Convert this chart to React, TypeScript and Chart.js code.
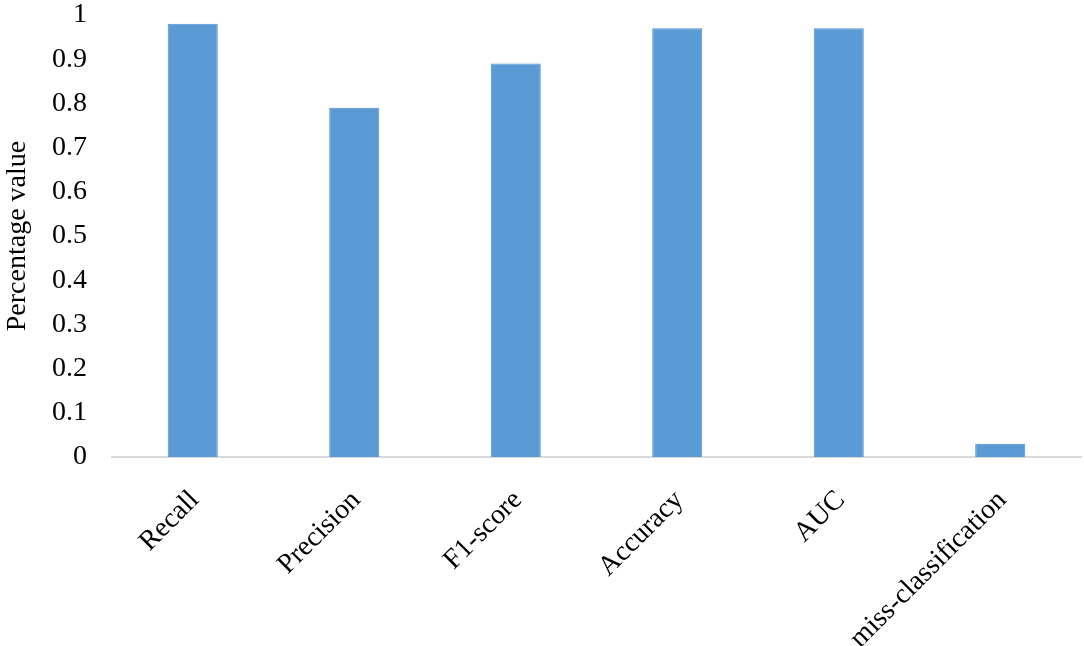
import React, { useEffect, useRef } from "react";
import { Chart, registerables } from "chart.js";

Chart.register(...registerables);

const categories = ["Recall", "Precision", "F1-score", "Accuracy", "AUC", "miss-classification"];
const values = [0.98, 0.79, 0.89, 0.97, 0.97, 0.03];
const yTicks = [0, 0.1, 0.2, 0.3, 0.4, 0.5, 0.6, 0.7, 0.8, 0.9, 1];
const yTitle = "Percentage value";

const FONT = '"Liberation Serif", "Times New Roman", serif';

export default function App() {
  const ref = useRef<HTMLCanvasElement | null>(null);
  useEffect(() => {
    if (!ref.current) return;
    const chart = new Chart(ref.current, {
      type: "bar",
      data: {
        labels: categories,
        datasets: [
          {
            data: values,
            backgroundColor: "#5B9BD5",
            borderColor: "#4F8FCF",
            borderWidth: 1,
            barPercentage: 0.31,
            categoryPercentage: 1,
          },
        ],
      },
      options: {
        responsive: false,
        animation: false,
        layout: { padding: { top: 15, right: 3, left: 0, bottom: 0 } },
        plugins: { legend: { display: false }, tooltip: { enabled: false } },
        scales: {
          x: {
            grid: { display: false, drawTicks: false },
            border: { display: true, color: "#D9D9D9", width: 2 },
            ticks: {
              font: { family: FONT, size: 28 },
              color: "#000",
              minRotation: 45,
              maxRotation: 45,
              autoSkip: false,
              padding: 27,
              labelOffset: 2,
            },
            afterFit: (scale: any) => {
              scale.height = 189;
              scale.paddingLeft = 0;
              scale.paddingRight = 0;
            },
          },
          y: {
            min: 0,
            max: 1,
            afterBuildTicks: (scale: any) => {
              scale.ticks = yTicks.map((v) => ({ value: v }));
            },
            grid: { display: false, drawTicks: false },
            border: { display: false },
            ticks: {
              font: { family: FONT, size: 28 },
              color: "#000",
              padding: 25,
              callback: (v: any) => String(Math.round(Number(v) * 10) / 10),
            },
            title: {
              display: true,
              text: yTitle,
              font: { family: FONT, size: 28 },
              color: "#000",
              padding: { top: 1, bottom: 0 },
            },
            afterFit: (scale: any) => {
              scale.width = 112;
              scale.paddingTop = 0;
              scale.paddingBottom = 0;
            },
          },
        },
      },
    });
    return () => chart.destroy();
  }, []);
  return (
    <div style={{ position: "absolute", left: 0, top: 0, width: 1084, height: 646, background: "#fff" }}>
      <canvas ref={ref} width={1084} height={646} />
    </div>
  );
}
